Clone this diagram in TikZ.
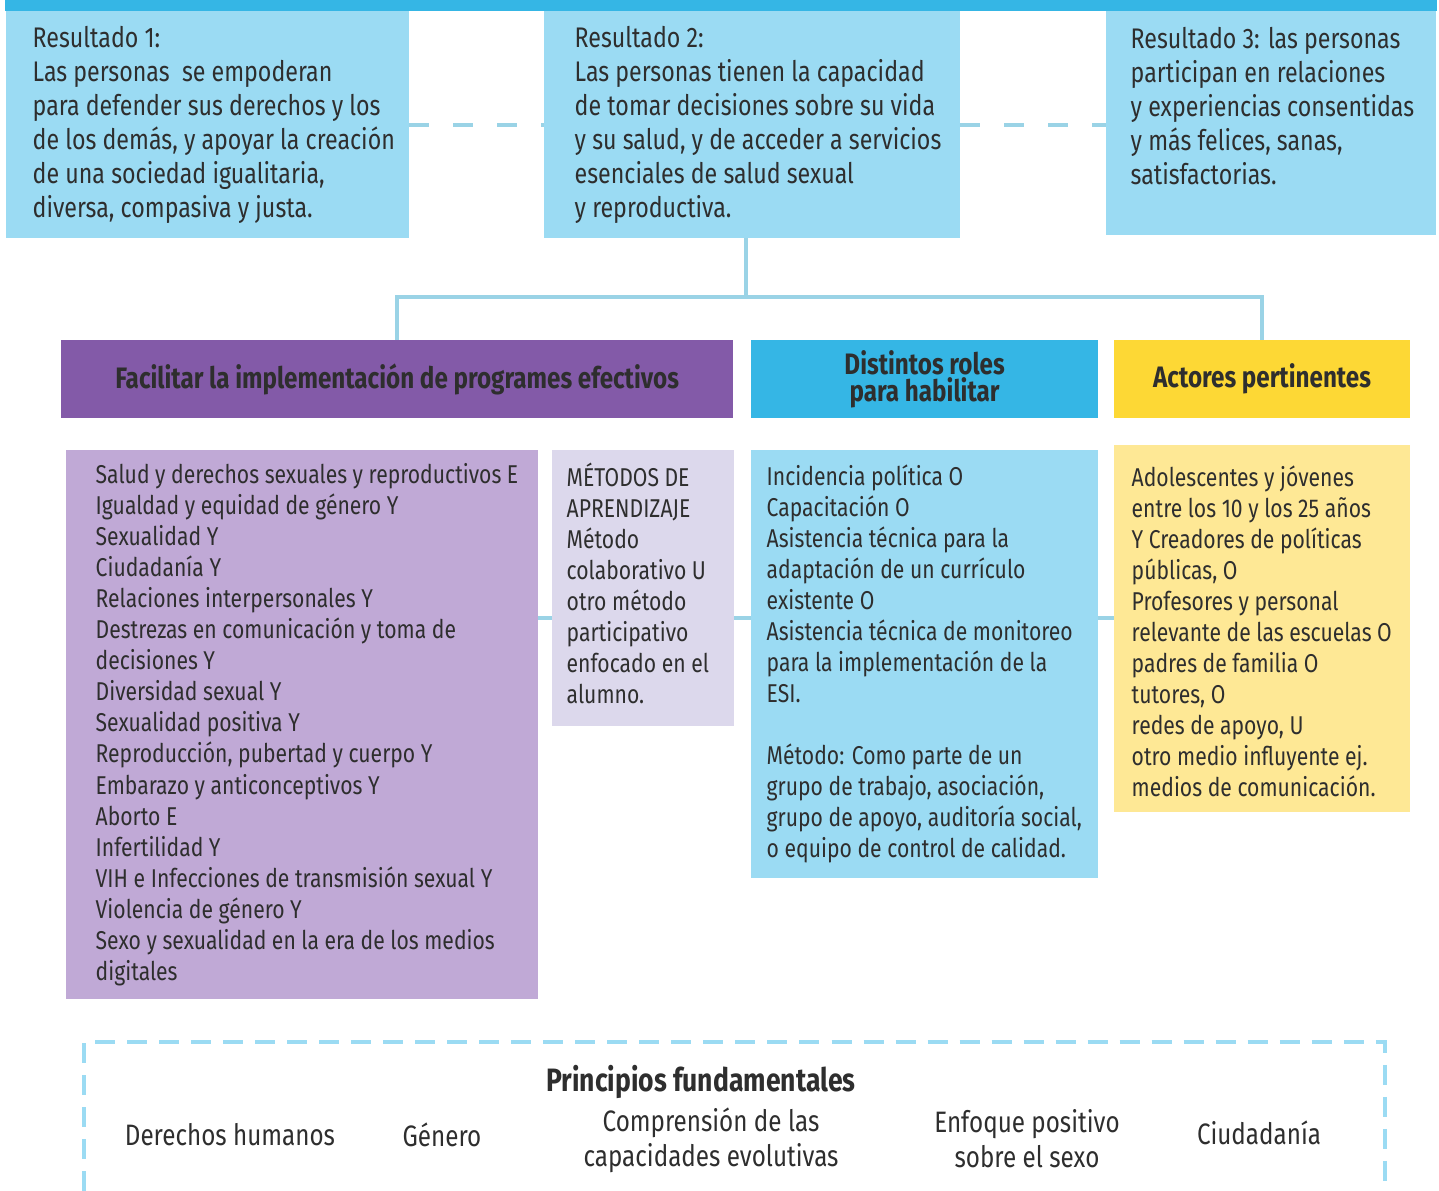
\documentclass[tikz,border=0pt]{standalone}
\usepackage{fontspec}
\setmainfont{Fira Sans}[FakeStretch=0.82]
\usetikzlibrary{positioning,calc}

\definecolor{stripblue}{HTML}{35B6E5}
\definecolor{resblue}{HTML}{9BDBF3}
\definecolor{linkblue}{HTML}{9AD3E6}
\definecolor{hdrpurple}{HTML}{835AA8}
\definecolor{bodypurple}{HTML}{C0A9D6}
\definecolor{lilac}{HTML}{DCD8EC}
\definecolor{hdryellow}{HTML}{FDD835}
\definecolor{bodyyellow}{HTML}{FEE895}
\definecolor{ink}{HTML}{2E2E2E}

\tikzset{
  box/.style={anchor=north west, inner sep=0pt, outer sep=0pt},
  txt/.style={anchor=west, align=left, inner sep=0pt, text=ink, font=\fontsize{8.05pt}{9.67pt}\selectfont},
  small/.style={txt, font=\fontsize{7.33pt}{8.82pt}\selectfont},
  hdr/.style={align=center, text=ink, font=\bfseries\fontsize{8.4pt}{10pt}\selectfont},
  big/.style={align=center, inner sep=0pt, text=ink, font=\fontsize{8.4pt}{10pt}\selectfont},
  conn/.style={draw=linkblue, line width=0.04cm},
  dashconn/.style={conn, dash pattern=on 0.2cm off 0.24cm},
  frameline/.style={draw=resblue, line width=0.04cm, dash pattern=on 0.2cm off 0.12cm},
}

\begin{document}
\begin{tikzpicture}[x=0.01cm, y=-0.01cm]
\useasboundingbox (0,0) rectangle (1439,1191);

% Results
\node[box, fill=stripblue, minimum width=14.31cm, minimum height=0.11cm] (strip) at (5,0) {};
\node[box, fill=resblue, minimum width=4.03cm, minimum height=2.27cm] (res1) at (6,11) {};
\node[box, fill=resblue, minimum width=4.16cm, minimum height=2.27cm] (res2) at (544,11) {};
\node[box, fill=resblue, minimum width=3.30cm, minimum height=2.24cm] (res3) at (1106,11) {};

\node[txt] (res1txt) at ([xshift=0.26cm]res1.west) {Resultado 1:\\Las personas~ se empoderan\\para defender sus derechos y los\\de los demás, y apoyar la creación\\de una sociedad igualitaria,\\diversa, compasiva y justa.};
\node[txt] (res2txt) at ([xshift=0.30cm]res2.west) {Resultado 2:\\Las personas tienen la capacidad\\de tomar decisiones sobre su vida\\y su salud, y de acceder a servicios\\esenciales de salud sexual\\y reproductiva.};
\node[txt, anchor=north west] (res3txt) at ([xshift=0.24cm, yshift=-0.16cm]res3.north west) {Resultado 3: las personas\\participan en relaciones\\y experiencias consentidas\\y más felices, sanas,\\satisfactorias.};

\draw[dashconn] (res1.east) -- (res2.west);
\draw[dashconn] (res2.east) -- (res2.east -| res3.west);

% Headers
\node[box, hdr, fill=hdrpurple, minimum width=6.72cm, minimum height=0.78cm] (facil) at (61,340) {Facilitar la implementación de programes efectivos};
\node[box, hdr, fill=stripblue, minimum width=3.47cm, minimum height=0.78cm] (roles) at (751,340) {Distintos roles\\[-2.3pt]para habilitar};
\node[box, hdr, fill=hdryellow, minimum width=2.96cm, minimum height=0.78cm] (actor) at (1114,340) {Actores pertinentes};

\coordinate (split) at ([xshift=-0.06cm]res2.south |- 0,297);
\draw[conn] ([xshift=-0.06cm]res2.south) -- (split);
\draw[conn] (facil.north) |- (split) -| (actor.north);

% Contents
\node[box, fill=bodypurple, minimum width=4.72cm, minimum height=5.49cm] (prog) at (66,450) {};
\node[box, fill=lilac, minimum width=1.82cm, minimum height=2.76cm] (metodos) at (552,450) {};
\node[box, fill=resblue, minimum width=3.47cm, minimum height=4.28cm] (rolesbody) at (751,450) {};
\node[box, fill=bodyyellow, minimum width=2.96cm, minimum height=3.67cm] (actorbody) at (1114,445) {};

\node[small] (progtxt) at ([xshift=0.29cm]prog.west) {Salud y derechos sexuales y reproductivos E\\Igualdad y equidad de género Y\\Sexualidad Y\\Ciudadanía Y\\Relaciones interpersonales Y\\Destrezas en comunicación y toma de\\decisiones Y\\Diversidad sexual Y\\Sexualidad positiva Y\\Reproducción, pubertad y cuerpo Y\\Embarazo y anticonceptivos Y\\Aborto E\\Infertilidad Y\\VIH e Infecciones de transmisión sexual Y\\Violencia de género Y\\Sexo y sexualidad en la era de los medios\\digitales};
\node[small] (metodostxt) at ([xshift=0.14cm, yshift=0.05cm]metodos.west) {MÉTODOS DE\\APRENDIZAJE\\Método\\colaborativo U\\otro método\\participativo\\enfocado en el\\alumno.};
\node[small] (rolestxt) at ([xshift=0.15cm]rolesbody.west) {Incidencia política O\\Capacitación O\\Asistencia técnica para la\\adaptación de un currículo\\existente O\\Asistencia técnica de monitoreo\\para la implementación de la\\ESI.\\[8.82pt]Método: Como parte de un\\grupo de trabajo, asociación,\\grupo de apoyo, auditoría social,\\o equipo de control de calidad.};
\node[small] (actortxt) at ([xshift=0.17cm, yshift=-0.03cm]actorbody.west) {Adolescentes y jóvenes\\entre los 10 y los 25 años\\Y Creadores de políticas\\públicas, O\\Profesores y personal\\relevante de las escuelas O\\padres de familia O\\tutores, O\\redes de apoyo, U\\otro medio influyente ej.\\medios de comunicación.};

\coordinate (midrow) at (0,618);
\draw[conn] (prog.east |- midrow) -- (metodos.west |- midrow);
\draw[conn] (metodos.east |- midrow) -- (rolesbody.west |- midrow);
\draw[conn] (rolesbody.east |- midrow) -- (actorbody.west |- midrow);

% Principles
\draw[frameline] (84,1191) |- (1385,1042) -- (1385,1191);
\node[big, font=\bfseries\fontsize{9.2pt}{10pt}\selectfont] (princ) at (701,1082) {Principios fundamentales};
\node[big] (dh) at (230,1135) {Derechos humanos};
\node[big] (gen) at (442,1135) {Género};
\node[big] (capac) at (711,1140) {Comprensión de las\\capacidades evolutivas};
\node[big] (enfoq) at (1027,1139) {Enfoque positivo\\sobre el sexo};
\node[big] (ciud) at (1259,1133) {Ciudadanía};
\end{tikzpicture}
\end{document}
